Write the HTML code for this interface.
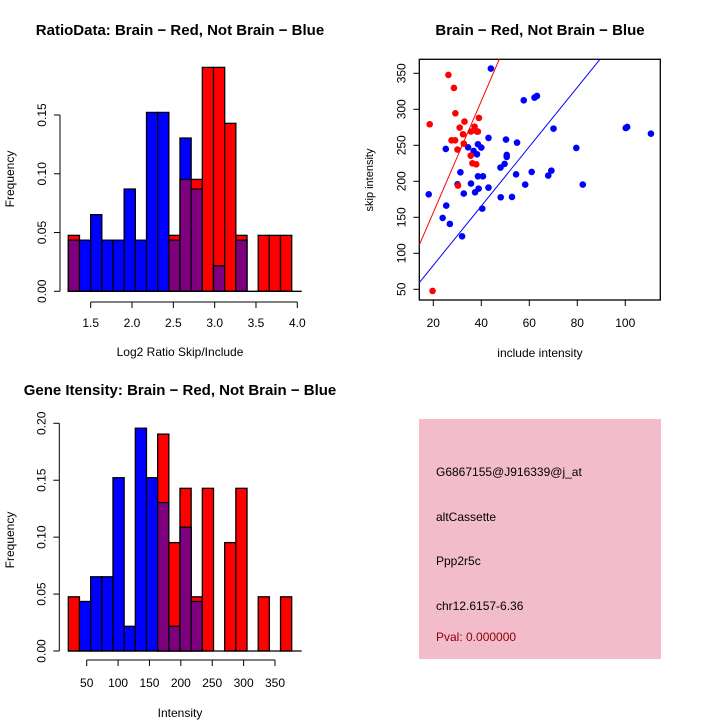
<!DOCTYPE html>
<html><head><meta charset="utf-8"><style>
body{margin:0;background:#fff}
svg{display:block;font-family:"Liberation Sans",sans-serif}
</style></head><body>
<svg id="s" width="720" height="720" xmlns="http://www.w3.org/2000/svg">
<rect x="0" y="0" width="720" height="720" fill="#fff"/>
<text x="180" y="35" font-size="15" font-weight="bold" text-anchor="middle">RatioData: Brain − Red, Not Brain − Blue</text>
<text x="180" y="356" font-size="12" text-anchor="middle">Log2 Ratio Skip/Include</text>
<text x="14" y="179" font-size="12" text-anchor="middle" transform="rotate(-90 14 179)">Frequency</text>
<text x="540" y="35" font-size="15" font-weight="bold" text-anchor="middle">Brain − Red, Not Brain − Blue</text>
<text x="540" y="357" font-size="12" text-anchor="middle">include intensity</text>
<text x="373" y="180" font-size="11" text-anchor="middle" transform="rotate(-90 373 180)">skip intensity</text>
<text x="180" y="395" font-size="15" font-weight="bold" text-anchor="middle">Gene Itensity: Brain − Red, Not Brain − Blue</text>
<text x="180" y="717" font-size="12" text-anchor="middle">Intensity</text>
<text x="14" y="540" font-size="12" text-anchor="middle" transform="rotate(-90 14 540)">Frequency</text>
<g>
<rect x="419" y="419" width="242" height="240" fill="#f3bccb"/>
<text x="436" y="476" font-size="12">G6867155@J916339@j_at</text>
<text x="436" y="521" font-size="12">altCassette</text>
<text x="436" y="565" font-size="12">Ppp2r5c</text>
<text x="436" y="610" font-size="12">chr12.6157-6.36</text>
<text x="436" y="641" font-size="12" fill="#8b0000">Pval: 0.000000</text>
</g>
<g id="g1"></g><g id="g2"></g><g id="g3"></g>
</svg>
<script>
// Ratio histogram data
const ratioRed = [0.0476,0,0,0,0,0,0,0,0,0.0476,0.0952,0.0952,0.1905,0.1905,0.1429,0.0476,0,0.0476,0.0476,0.0476];
const ratioBlue = [0.0435,0.0435,0.0652,0.0435,0.0435,0.087,0.0435,0.1522,0.1522,0.0435,0.1304,0.087,0,0.0217,0,0.0435,0,0,0,0];
const ratioXTicks = [1.5,2.0,2.5,3.0,3.5,4.0];
const ratioYTicks = [0,0.05,0.10,0.15];
// Intensity histogram data
const intRed = [0.0476,0,0,0,0,0,0,0,0.1905,0.0952,0.1429,0.0476,0.1429,0,0.0952,0.1429,0,0.0476,0,0.0476];
const intBlue = [0,0.0435,0.0652,0.0652,0.1522,0.0217,0.1957,0.1522,0.1304,0.0217,0.1087,0.0435,0,0,0,0,0,0,0,0];
const intXTicks = [50,100,150,200,250,300,350];
const intYTicks = [0,0.05,0.10,0.15,0.20];
// Scatter data
const redX = [18.5,26.3,28.6,29.2,33.0,27.6,29.1,30.1,31.0,32.4,32.7,35.7,37.2,38.2,39.0,38.6,35.6,36.3,37.9,19.7,30.3];
const redY = [279.2,347.7,329.6,294.4,282.9,256.9,256.9,244.0,274.5,265.3,252.3,269.0,275.9,269.0,288.0,269.0,235.6,225.0,223.6,47.7,194.0];
const blueX = [18.1,25.2,23.9,25.4,26.9,32.0,30.1,31.3,32.7,35.7,34.5,36.8,38.6,40.0,38.2,37.4,38.9,38.6,40.7,40.4,43.0,43.0,44.0,48.0,49.7,50.6,50.6,50.3,48.1,52.8,54.5,54.9,58.3,57.7,61.0,62.2,63.2,67.9,69.2,70.1,79.6,82.3,100.8,100.2,110.7];
const blueY = [181.9,244.9,149.1,166.2,140.7,123.6,195.8,212.5,182.9,196.8,247.2,242.1,251.4,246.8,237.5,184.7,189.8,206.9,206.9,162.0,191.2,260.2,356.5,219.0,224.1,233.8,236.6,257.9,177.8,178.2,209.7,253.7,195.4,312.5,213.0,316.2,318.5,207.9,214.8,273.1,246.3,195.4,275.4,274.0,266.1];
const scatterXTicks = [20,40,60,80,100];
const scatterYTicks = [50,100,150,200,250,300,350];
const lineSlopes = [7.74,4.12];
const lineIntercepts = [1.8,0.8];

const NS="http://www.w3.org/2000/svg";
function mk(parent,tag,attrs){const e=document.createElementNS(NS,tag);for(const k in attrs)e.setAttribute(k,attrs[k]);parent.appendChild(e);return e;}

function hist(g,red,blue,xmin,xmax,bx0,bx1,ymax,py0,py1,axX,axY,xTicks,yTicks,xLabY,axXy,prefix,xfmt,yfmt){
  const n=red.length, bw=(bx1-bx0)/n;
  const sy=v=>py0-(v/ymax)*(py0-py1);
  const sx=v=>axX[0]+(v-axX[2])*(axX[1]-axX[0])/(axX[3]-axX[2]);
  for(let i=0;i<n;i++){
    const r=red[i], b=blue[i], x=bx0+i*bw;
    const hi=Math.max(r,b), lo=Math.min(r,b);
    if(hi>0){
      const e=mk(g,'rect',{x:x,y:sy(hi),width:bw,height:py0-sy(hi),fill:r>=b?'#ff0000':'#0000ff',stroke:'#000','stroke-width':1.3});
      
      
    }
    if(lo>0){
      const e=mk(g,'rect',{x:x,y:sy(lo),width:bw,height:py0-sy(lo),fill:'#7f007f',stroke:'#000','stroke-width':1.3});
      
      
    }
  }
  const base=mk(g,'line',{x1:bx0,x2:bx1+10,y1:py0,y2:py0,stroke:'#000','stroke-width':1.3});
  
  
  const xa=mk(g,'line',{x1:sx(xTicks[0]),x2:sx(xTicks[xTicks.length-1]),y1:axXy,y2:axXy,stroke:'#000','stroke-width':1});
  
  
  xTicks.forEach(t=>{
    mk(g,'line',{x1:sx(t),x2:sx(t),y1:axXy,y2:axXy+6,stroke:'#000'});
    const tx=mk(g,'text',{x:sx(t),y:xLabY,'font-size':12,'text-anchor':'middle'});
    tx.textContent=xfmt(t);
    
    
  });
  const ya=mk(g,'line',{x1:axY,x2:axY,y1:sy(yTicks[0]),y2:sy(yTicks[yTicks.length-1]),stroke:'#000'});
  
  
  yTicks.forEach(t=>{
    mk(g,'line',{x1:axY-6,x2:axY,y1:sy(t),y2:sy(t),stroke:'#000'});
    const tx=mk(g,'text',{x:axY-14,y:sy(t),'font-size':12,'text-anchor':'middle',transform:`rotate(-90 ${axY-14} ${sy(t)})`});
    tx.textContent=yfmt(t);
    
    
  });
}
hist(document.getElementById('g1'),ratioRed,ratioBlue,0,0,68.3,291.7,0.15,291.3,115,[90.7,297.3,1.5,4.0],60,ratioXTicks,ratioYTicks,327,302,'ratio',t=>t.toFixed(1),t=>t.toFixed(2));
hist(document.getElementById('g3'),intRed,intBlue,0,0,68.3,291.7,0.20,651,423.3,[86.7,275,50,350],59.3,intXTicks,intYTicks,687,660,'intensity',t=>String(t),t=>t.toFixed(2));

(function(){
  const g=document.getElementById('g2');
  const L=419.3,R=660.3,T=59.3,B=300;
  const x0=14.17,x1=114.6,y0=35.1,y1=369.4;
  const sx=v=>L+(v-x0)*(R-L)/(x1-x0);
  const sy=v=>B-(v-y0)*(B-T)/(y1-y0);
  const box=mk(g,'rect',{x:L,y:T,width:R-L,height:B-T,fill:'none',stroke:'#000','stroke-width':1.3});
  
  
  scatterXTicks.forEach(t=>{
    mk(g,'line',{x1:sx(t),x2:sx(t),y1:B,y2:B+6,stroke:'#000'});
    const tx=mk(g,'text',{x:sx(t),y:327,'font-size':12,'text-anchor':'middle'});
    tx.textContent=t;
    
    
  });
  scatterYTicks.forEach(t=>{
    mk(g,'line',{x1:L-6,x2:L,y1:sy(t),y2:sy(t),stroke:'#000'});
    const tx=mk(g,'text',{x:L-14,y:sy(t),'font-size':12,'text-anchor':'middle',transform:`rotate(-90 ${L-14} ${sy(t)})`});
    tx.textContent=t;
    
    
  });
  const defs=mk(g,'clipPath',{id:'clp'});
  mk(defs,'rect',{x:L,y:T,width:R-L,height:B-T});
  const cols=['#ff0000','#0000ff'];
  lineSlopes.forEach((m,i)=>{
    const c=lineIntercepts[i];
    const ln=mk(g,'line',{x1:sx(x0),y1:sy(c+m*x0),x2:sx(x1),y2:sy(c+m*x1),stroke:cols[i],'stroke-width':1,'clip-path':'url(#clp)'});
    
    
  });
  blueX.forEach((v,i)=>{
    const p=mk(g,'circle',{cx:sx(v),cy:sy(blueY[i]),r:3.3,fill:'#0000ff'});
    
    
  });
  redX.forEach((v,i)=>{
    const p=mk(g,'circle',{cx:sx(v),cy:sy(redY[i]),r:3.3,fill:'#ff0000'});
    
    
  });
})();
</script>
</body></html>
